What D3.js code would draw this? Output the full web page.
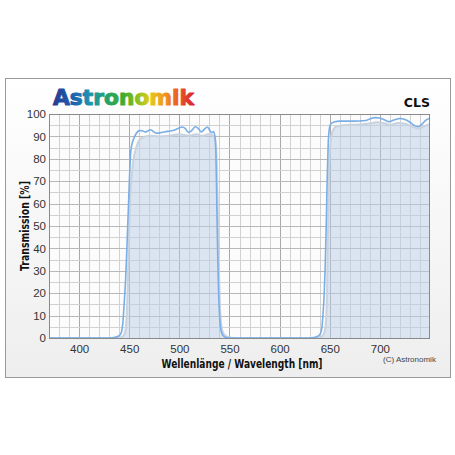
<!DOCTYPE html>
<html>
<head>
<meta charset="utf-8">
<script src="https://cdn.jsdelivr.net/npm/d3@7"></script>
<style>
  html, body { margin: 0; padding: 0; background: #fff; }
  svg { display: block; }
  .tick text { font-family: "Liberation Sans", Arial, sans-serif; font-size: 11.5px; fill: #333; }
</style>
</head>
<body>
<div id="chart"></div>
<script>
// wavelength [nm] / transmission [%]
const mainWl = [370,430,436,439,441,442.5,443.5,444.5,445.5,446.5,447.5,448.5,449.5,450.5,451.5,453,455,457,460,463,466,468,471,474,477,481,486,491,496,500,503,506,509,512,516,519,522,525,528,530,532,534,535.5,536.5,537.2,537.8,538.5,539.2,540,541,543,546,550,630,635,638,640,641.5,642.5,643.5,644.5,645.5,646.5,647.5,648.5,649.5,651,655,660,670,680,686,690,695,700,705,709,714,720,725,730,734,738,742,746,750];
const mainT = [0,0,0.3,0.8,1.5,3,6,12,19,27,38,50,62,74,83,87,89.5,91.3,92.6,92.5,92,92.3,93,92.2,91.4,91.6,92.1,92.4,93,93.8,94.2,93.5,91.8,92.5,94.3,93.5,92,93.2,94.2,93,91.7,92,90,82,65,48,32,20,11,5,1.5,0.3,0,0,0.3,0.8,1.5,3,6,12,20,32,50,72,87,93,95.5,96.5,96.8,96.8,96.9,97.1,97.8,98.4,98.2,97.3,96.6,97.3,98,97.5,96.3,95,94.3,95.5,97.3,98.1];

const lightWl = [370,438,443,445,446.5,447.5,448.5,449.5,450.5,452,454,457,461,470,480,490,500,510,517,523,529,533,535.5,537,538,539,540,541,543,546,550,555,635,640,643,645,646.5,647.5,648.5,649.5,651,653,657,665,680,690,697,703,710,718,725,732,738,744,750];
const lightT = [0,0,0.5,1.5,4,10,22,40,58,70,79,85,88.8,90.3,90,90.3,91,90.3,91,90.2,91,90.5,89,82,65,42,22,10,3,1,0.2,0,0,0.3,1,3,9,25,55,78,88,92.5,94.5,95,95.3,95.8,96.3,96,95.2,96,95.7,94.5,93.5,94.5,95.5];

const xTicks = [400,450,500,550,600,650,700];
const yTicks = [0,10,20,30,40,50,60,70,80,90,100];

const W = 455, H = 455;
const plot = {left: 49, right: 430, top: 114, bottom: 338};

const x = d3.scaleLinear().domain([370, 750]).range([plot.left, plot.right]);
const y = d3.scaleLinear().domain([0, 100]).range([plot.bottom, plot.top]);

const svg = d3.select('#chart').append('svg')
    .attr('width', W)
    .attr('height', H);

const defs = svg.append('defs');
const bg = defs.append('linearGradient').attr('id', 'frameBg')
    .attr('x1', 0).attr('y1', 0).attr('x2', 0).attr('y2', 1);
bg.append('stop').attr('offset', '0%').attr('stop-color', '#ffffff');
bg.append('stop').attr('offset', '100%').attr('stop-color', '#eeeeee');

// rainbow for the logo
const logo = defs.append('linearGradient').attr('id', 'logoGrad')
    .attr('x1', 0).attr('y1', 0).attr('x2', 1).attr('y2', 0);
[['0%','#283c8e'],['14%','#1d5fae'],['26%','#1f93b0'],['38%','#23a36a'],['50%','#3fac2e'],
 ['60%','#8fc21f'],['68%','#e4c91a'],['78%','#f29a1c'],['88%','#eb5a26'],['100%','#d8202c']]
  .forEach(s => logo.append('stop').attr('offset', s[0]).attr('stop-color', s[1]));

// outer frame
svg.append('rect')
    .attr('x', 5.5).attr('y', 78.5)
    .attr('width', 445).attr('height', 299)
    .attr('fill', 'url(#frameBg)')
    .attr('stroke', '#9a9a9a');

svg.append('text')
    .attr('x', 53).attr('y', 105)
    .attr('font-family', '"DejaVu Sans", sans-serif')
    .attr('font-weight', 'bold')
    .attr('font-size', 21)
    .attr('textLength', 141)
    .attr('lengthAdjust', 'spacingAndGlyphs')
    .attr('fill', 'url(#logoGrad)')
    .attr('stroke', 'url(#logoGrad)')
    .attr('stroke-width', 1)
    .attr('stroke-linejoin', 'round')
    .text('Astronomik');

svg.append('text')
    .attr('x', 430).attr('y', 107)
    .attr('text-anchor', 'end')
    .attr('font-family', '"DejaVu Sans", sans-serif')
    .attr('font-weight', 'bold')
    .attr('font-size', 12.5)
    .attr('fill', '#111')
    .text('CLS');

// plot background
svg.append('rect')
    .attr('x', plot.left).attr('y', plot.top)
    .attr('width', plot.right - plot.left).attr('height', plot.bottom - plot.top)
    .attr('fill', '#fcfcfc');

const g = svg.append('g');

// grid - every 10 nm / 5 %
const xGrid = d3.range(380, 750, 10);
const yGrid = d3.range(5, 100, 5);
g.selectAll('.vx').data(xGrid).join('line')
    .attr('x1', d => Math.round(x(d)) + 0.5).attr('x2', d => Math.round(x(d)) + 0.5)
    .attr('y1', plot.top).attr('y2', plot.bottom)
    .attr('stroke', d => d % 50 === 0 ? '#a9a9a9' : '#d2d2d2');
g.selectAll('.hy').data(yGrid).join('line')
    .attr('y1', d => Math.round(y(d)) + 0.5).attr('y2', d => Math.round(y(d)) + 0.5)
    .attr('x1', plot.left).attr('x2', plot.right)
    .attr('stroke', d => d % 10 === 0 ? '#b8b8b8' : '#d2d2d2');

const lightData = lightWl.map((w, i) => [w, lightT[i]]);
const mainData = mainWl.map((w, i) => [w, mainT[i]]);

const area = d3.area()
    .x(d => x(d[0]))
    .y0(y(0))
    .y1(d => y(d[1]))
    .curve(d3.curveMonotoneX);

const line = d3.line()
    .x(d => x(d[0]))
    .y(d => y(d[1]))
    .curve(d3.curveMonotoneX);

g.append('path')
    .attr('d', area(lightData))
    .attr('fill', '#b9cde6')
    .attr('fill-opacity', 0.5);

g.append('path')
    .attr('d', line(lightData))
    .attr('fill', 'none')
    .attr('stroke', '#c9d3df')
    .attr('stroke-width', 2);

g.append('path')
    .attr('d', line(mainData))
    .attr('fill', 'none')
    .attr('stroke', '#7aaee6')
    .attr('stroke-width', 1.6);

// plot border
svg.append('rect')
    .attr('x', plot.left + 0.5).attr('y', plot.top + 0.5)
    .attr('width', plot.right - plot.left - 1).attr('height', plot.bottom - plot.top)
    .attr('fill', 'none')
    .attr('stroke', '#8a8a8a');

// axes
svg.append('g')
    .attr('transform', `translate(0,${plot.bottom})`)
    .call(d3.axisBottom(x).tickValues(xTicks).tickSize(0).tickPadding(7))
    .call(a => a.select('.domain').remove());

svg.append('g')
    .attr('transform', `translate(${plot.left},0)`)
    .call(d3.axisLeft(y).tickValues(yTicks).tickSize(0).tickPadding(3))
    .call(a => a.select('.domain').remove());

svg.append('text')
    .attr('x', 242).attr('y', 368)
    .attr('text-anchor', 'middle')
    .attr('font-family', '"DejaVu Sans", sans-serif')
    .attr('font-weight', 'bold')
    .attr('font-size', 12)
    .attr('textLength', 161)
    .attr('lengthAdjust', 'spacingAndGlyphs')
    .attr('fill', '#111')
    .text('Wellenlänge / Wavelength [nm]');

svg.append('text')
    .attr('transform', 'translate(29,226) rotate(-90)')
    .attr('text-anchor', 'middle')
    .attr('font-family', '"DejaVu Sans", sans-serif')
    .attr('font-weight', 'bold')
    .attr('font-size', 11.5)
    .attr('textLength', 90)
    .attr('lengthAdjust', 'spacingAndGlyphs')
    .attr('fill', '#111')
    .text('Transmission [%]');

svg.append('text')
    .attr('x', 383).attr('y', 362)
    .attr('font-family', '"Liberation Sans", Arial, sans-serif')
    .attr('font-size', 8)
    .attr('fill', '#444')
    .text('(C) Astronomik');
</script>
</body>
</html>
